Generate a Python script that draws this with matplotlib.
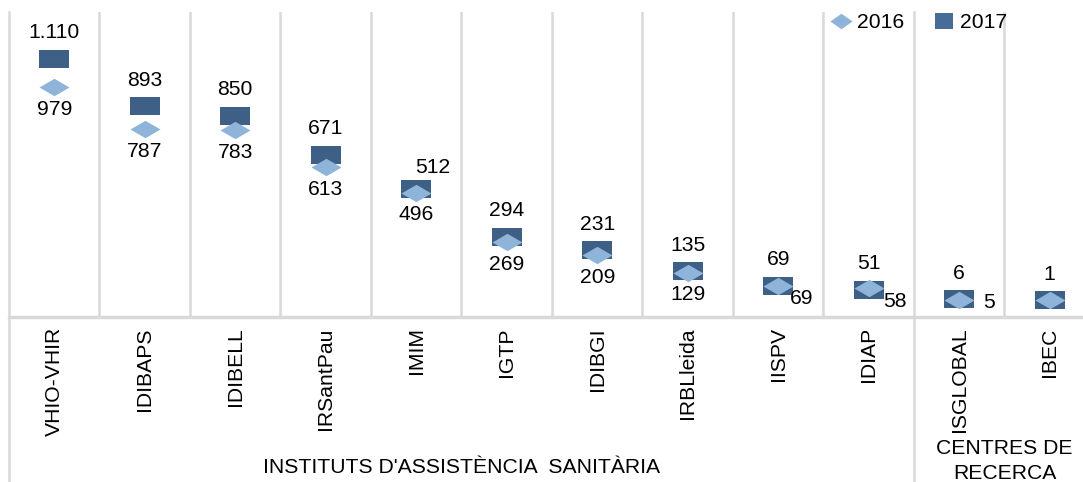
import matplotlib.pyplot as plt
from matplotlib.lines import Line2D

plt.rcParams["font.family"] = ["Liberation Sans", "DejaVu Sans"]

institutes = ["VHIO-VHIR", "IDIBAPS", "IDIBELL", "IRSantPau", "IMIM", "IGTP",
              "IDIBGI", "IRBLleida", "IISPV", "IDIAP", "ISGLOBAL", "IBEC"]
values_2016 = [979, 787, 783, 613, 496, 269, 209, 129, 69, 58, 5, 1]
values_2017 = [1110, 893, 850, 671, 512, 294, 231, 135, 69, 51, 6, 1]
labels_2016 = ["979", "787", "783", "613", "496", "269", "209", "129", "69", "58", "5", ""]
labels_2017 = ["1.110", "893", "850", "671", "512", "294", "231", "135", "69", "51", "6", "1"]
groups = ["INSTITUTS D'ASSISTÈNCIA  SANITÀRIA", "CENTRES DE\nRECERCA"]

# label offsets (pixels) - a few labels moved aside like in the original
off_2017 = {4: (17, 22)}
off_2016 = {8: (23, -13), 9: (26, -13), 10: (30, -3)}

c2016 = "#8fb4da"
c2017 = "#3e5f86"
grid_c = "#d9d9d9"
fs = 15.2

fig = plt.figure(figsize=(10.83, 4.82), dpi=100)
ax = fig.add_axes([9 / 1083, 0.3413, 1086 / 1083, 0.6338])

x = range(len(institutes))
rect = [(-1, -0.57), (1, -0.57), (1, 0.57), (-1, 0.57), (-1, -0.57)]
diam = [(-1, 0), (0, 0.58), (1, 0), (0, -0.58), (-1, 0)]
ax.plot(x, values_2017, ls="none", marker=rect, ms=21.6, color=c2017, mew=0, zorder=3)
ax.plot(x, values_2016, ls="none", marker=diam, ms=21.6, color=c2016, mew=0, zorder=4)

pt = 0.72
for i in x:
    dx, dy = off_2017.get(i, (0, 26))
    ax.annotate(labels_2017[i], (i, values_2017[i]), xytext=(dx * pt, dy * pt),
                textcoords="offset points", ha="center", va="center", fontsize=fs)
    dx, dy = off_2016.get(i, (0, -22))
    ax.annotate(labels_2016[i], (i, values_2016[i]), xytext=(dx * pt, dy * pt),
                textcoords="offset points", ha="center", va="center", fontsize=fs)

ax.set_xlim(-0.5, len(institutes) - 0.5)
ax.set_ylim(-77, 1325)
ax.set_yticks([])
ax.set_xticks(list(x))
ax.set_xticklabels(institutes, rotation=90, fontsize=fs, va="top")
ax.tick_params(axis="x", length=0, pad=7)
for s in ["top", "right", "left"]:
    ax.spines[s].set_visible(False)
ax.spines["bottom"].set_color(grid_c)
ax.spines["bottom"].set_linewidth(2.5)

# column separators
for k in range(len(institutes) + 1):
    b = k - 0.5
    if k in (0, 10):
        ax.axvline(b, ymin=-0.6, ymax=1, color=grid_c, lw=1.8, clip_on=False, zorder=1)
    else:
        ax.axvline(b, ymin=0, ymax=1, color=grid_c, lw=1.8, zorder=1)

tr = ax.get_xaxis_transform()
ax.text(4.5, -0.49, groups[0], transform=tr, ha="center", va="center", fontsize=fs)
ax.text(10.5, -0.47, groups[1], transform=tr, ha="center", va="center",
        fontsize=fs, linespacing=1.35)

handles = [
    Line2D([], [], ls="none", marker=[(-1, 0), (0, 0.7), (1, 0), (0, -0.7), (-1, 0)],
           ms=16, color=c2016, mew=0, label="2016"),
    Line2D([], [], ls="none", marker=[(-1, -0.85), (1, -0.85), (1, 0.85), (-1, 0.85), (-1, -0.85)],
           ms=13, color="#466d96", mew=0, label="2017"),
]
fig.legend(handles=handles, loc="center left", bbox_to_anchor=(828 / 1083, 1 - 23 / 482),
           ncol=2, frameon=False, fontsize=fs, handlelength=1.2, handletextpad=0.15,
           columnspacing=1.3, borderpad=0, borderaxespad=0)

plt.savefig("out.png", dpi=100)
